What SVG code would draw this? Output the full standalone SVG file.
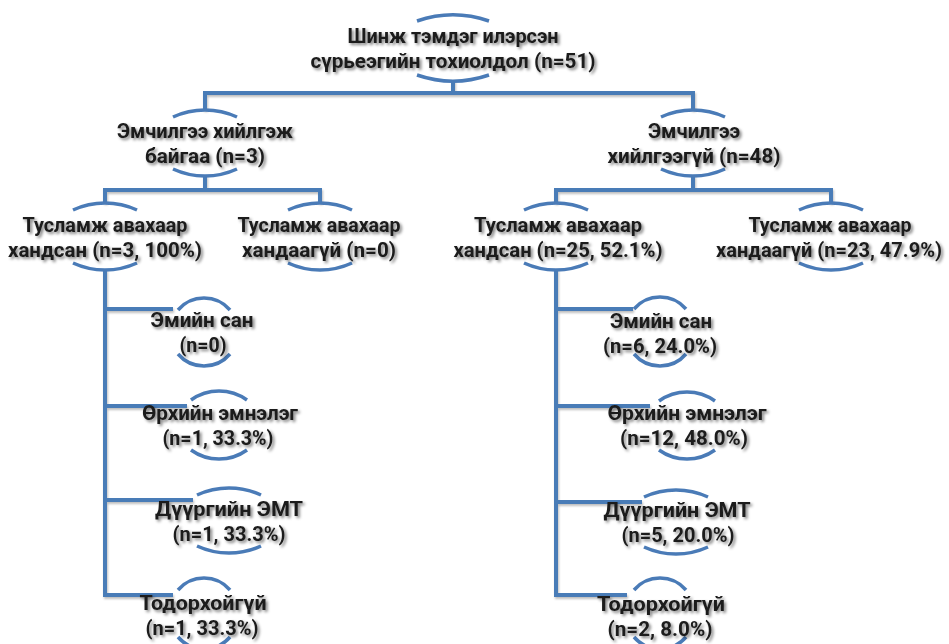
<svg xmlns="http://www.w3.org/2000/svg" width="949" height="644" viewBox="0 0 949 644">
<defs>
<filter id="sh" x="-10%" y="-30%" width="120%" height="160%">
<feGaussianBlur in="SourceAlpha" stdDeviation="1.7"/>
<feOffset dx="1.5" dy="2" result="b"/>
<feFlood flood-color="#000" flood-opacity="0.5"/>
<feComposite in2="b" operator="in" result="s"/>
<feMerge><feMergeNode in="s"/><feMergeNode in="SourceGraphic"/></feMerge>
</filter>
<filter id="lsh" filterUnits="userSpaceOnUse" x="0" y="0" width="949" height="644">
<feGaussianBlur in="SourceAlpha" stdDeviation="1"/>
<feOffset dx="1" dy="1.5" result="b"/>
<feFlood flood-color="#000" flood-opacity="0.25"/>
<feComposite in2="b" operator="in" result="s"/>
<feMerge><feMergeNode in="s"/><feMergeNode in="SourceGraphic"/></feMerge>
</filter>
</defs>
<style>
.t{font-family:Roboto,"Liberation Sans",sans-serif;font-weight:bold;font-size:20px;fill:#1a1a1a;text-anchor:middle;filter:url(#sh)}
.arc{fill:none;stroke:#4a7bb7;stroke-width:3.5}
.c{fill:none;stroke:#4a7bb7;stroke-width:4;stroke-linejoin:miter}
</style>
<rect width="949" height="644" fill="#fff"/>
<g id="connectors" filter="url(#lsh)">
<path class="c" d="M453,80 V93"/>
<path class="c" d="M205,110 V93 H693 V110"/>
<path class="c" d="M205,175 V190"/>
<path class="c" d="M105,203 V190 H320 V203"/>
<path class="c" d="M693,175 V190"/>
<path class="c" d="M556,203 V190 H831 V203"/>
<path class="c" d="M105,269 V595 H173"/>
<path class="c" d="M105,309 H173"/>
<path class="c" d="M105,406 H187"/>
<path class="c" d="M105,500 H193"/>
<path class="c" d="M556,269 V595 H627"/>
<path class="c" d="M556,309 H633"/>
<path class="c" d="M556,406 H650"/>
<path class="c" d="M556,502 H642"/>
</g>
<g id="root">
<path class="arc" d="M417,21 A111,111 0 0 1 489,21"/>
<path class="arc" d="M417,75 A111,111 0 0 0 489,75"/>
<text class="t" x="453" y="43" textLength="211" lengthAdjust="spacingAndGlyphs">Шинж тэмдэг илэрсэн</text>
<text class="t" x="453" y="68" textLength="285" lengthAdjust="spacingAndGlyphs">сүрьеэгийн тохиолдол (n=51)</text>
</g>
<g id="n1">
<path class="arc" d="M173,117 A76.6,76.6 0 0 1 237,117"/>
<path class="arc" d="M173,169 A76.6,76.6 0 0 0 237,169"/>
<text class="t" x="205" y="138" textLength="176" lengthAdjust="spacingAndGlyphs">Эмчилгээ хийлгэж</text>
<text class="t" x="205" y="163" textLength="120" lengthAdjust="spacingAndGlyphs">байгаа (n=3)</text>
</g>
<g id="n2">
<path class="arc" d="M661,117 A76.6,76.6 0 0 1 725,117"/>
<path class="arc" d="M661,169 A76.6,76.6 0 0 0 725,169"/>
<text class="t" x="694" y="138" textLength="92" lengthAdjust="spacingAndGlyphs">Эмчилгээ</text>
<text class="t" x="694" y="163" textLength="173" lengthAdjust="spacingAndGlyphs">хийлгээгүй (n=48)</text>
</g>
<g id="n1a">
<path class="arc" d="M73,210 A76.6,76.6 0 0 1 137,210"/>
<path class="arc" d="M73,263 A76.6,76.6 0 0 0 137,263"/>
<text class="t" x="105" y="232" textLength="165" lengthAdjust="spacingAndGlyphs">Тусламж авахаар</text>
<text class="t" x="105" y="257" textLength="194" lengthAdjust="spacingAndGlyphs">хандсан (n=3, 100%)</text>
</g>
<g id="n1b">
<path class="arc" d="M288,210 A76.6,76.6 0 0 1 352,210"/>
<path class="arc" d="M288,263 A76.6,76.6 0 0 0 352,263"/>
<text class="t" x="319" y="232" textLength="163" lengthAdjust="spacingAndGlyphs">Тусламж авахаар</text>
<text class="t" x="319" y="257" textLength="154" lengthAdjust="spacingAndGlyphs">хандаагүй (n=0)</text>
</g>
<g id="n2a">
<path class="arc" d="M524,210 A76.6,76.6 0 0 1 588,210"/>
<path class="arc" d="M524,263 A76.6,76.6 0 0 0 588,263"/>
<text class="t" x="558" y="232" textLength="168" lengthAdjust="spacingAndGlyphs">Тусламж авахаар</text>
<text class="t" x="558" y="257" textLength="209" lengthAdjust="spacingAndGlyphs">хандсан (n=25, 52.1%)</text>
</g>
<g id="n2b">
<path class="arc" d="M799,210 A76.6,76.6 0 0 1 863,210"/>
<path class="arc" d="M799,263 A76.6,76.6 0 0 0 863,263"/>
<text class="t" x="830" y="232" textLength="163" lengthAdjust="spacingAndGlyphs">Тусламж авахаар</text>
<text class="t" x="829" y="257" textLength="226" lengthAdjust="spacingAndGlyphs">хандаагүй (n=23, 47.9%)</text>
</g>
<g id="l1">
<path class="arc" d="M178,310 A34.2,34.2 0 0 1 230,310"/>
<path class="arc" d="M178,354 A34.2,34.2 0 0 0 230,354"/>
<text class="t" x="202" y="327" textLength="103" lengthAdjust="spacingAndGlyphs">Эмийн сан</text>
<text class="t" x="203" y="352" textLength="47" lengthAdjust="spacingAndGlyphs">(n=0)</text>
</g>
<g id="l2">
<path class="arc" d="M191,400 A48,48 0 0 1 247,400"/>
<path class="arc" d="M191,450 A48,48 0 0 0 247,450"/>
<text class="t" x="220" y="420" textLength="156" lengthAdjust="spacingAndGlyphs">Өрхийн эмнэлэг</text>
<text class="t" x="218" y="445" textLength="111" lengthAdjust="spacingAndGlyphs">(n=1, 33.3%)</text>
</g>
<g id="l3">
<path class="arc" d="M197,495 A76.6,76.6 0 0 1 261,495"/>
<path class="arc" d="M197,546 A76.6,76.6 0 0 0 261,546"/>
<text class="t" x="229" y="516" textLength="148" lengthAdjust="spacingAndGlyphs">Дүүргийн ЭМТ</text>
<text class="t" x="229" y="541" textLength="113" lengthAdjust="spacingAndGlyphs">(n=1, 33.3%)</text>
</g>
<g id="l4">
<path class="arc" d="M178,590 A34.2,34.2 0 0 1 230,590"/>
<path class="arc" d="M178,637 A34.2,34.2 0 0 0 230,637"/>
<text class="t" x="203" y="610" textLength="127" lengthAdjust="spacingAndGlyphs">Тодорхойгүй</text>
<text class="t" x="202" y="635" textLength="113" lengthAdjust="spacingAndGlyphs">(n=1, 33.3%)</text>
</g>
<g id="r1">
<path class="arc" d="M634,309 A34.2,34.2 0 0 1 686,309"/>
<path class="arc" d="M634,354 A34.2,34.2 0 0 0 686,354"/>
<text class="t" x="661" y="328" textLength="102" lengthAdjust="spacingAndGlyphs">Эмийн сан</text>
<text class="t" x="660" y="353" textLength="114" lengthAdjust="spacingAndGlyphs">(n=6, 24.0%)</text>
</g>
<g id="r2">
<path class="arc" d="M659,401 A48,48 0 0 1 715,401"/>
<path class="arc" d="M659,450 A48,48 0 0 0 715,450"/>
<text class="t" x="687" y="420" textLength="159" lengthAdjust="spacingAndGlyphs">Өрхийн эмнэлэг</text>
<text class="t" x="684" y="445" textLength="128" lengthAdjust="spacingAndGlyphs">(n=12, 48.0%)</text>
</g>
<g id="r3">
<path class="arc" d="M644,497 A76.6,76.6 0 0 1 708,497"/>
<path class="arc" d="M644,547 A76.6,76.6 0 0 0 708,547"/>
<text class="t" x="677" y="517" textLength="147" lengthAdjust="spacingAndGlyphs">Дүүргийн ЭМТ</text>
<text class="t" x="678" y="542" textLength="113" lengthAdjust="spacingAndGlyphs">(n=5, 20.0%)</text>
</g>
<g id="r4">
<path class="arc" d="M634,590 A34.2,34.2 0 0 1 686,590"/>
<path class="arc" d="M634,637 A34.2,34.2 0 0 0 686,637"/>
<text class="t" x="661" y="611" textLength="128" lengthAdjust="spacingAndGlyphs">Тодорхойгүй</text>
<text class="t" x="660" y="636" textLength="105" lengthAdjust="spacingAndGlyphs">(n=2, 8.0%)</text>
</g>
</svg>
